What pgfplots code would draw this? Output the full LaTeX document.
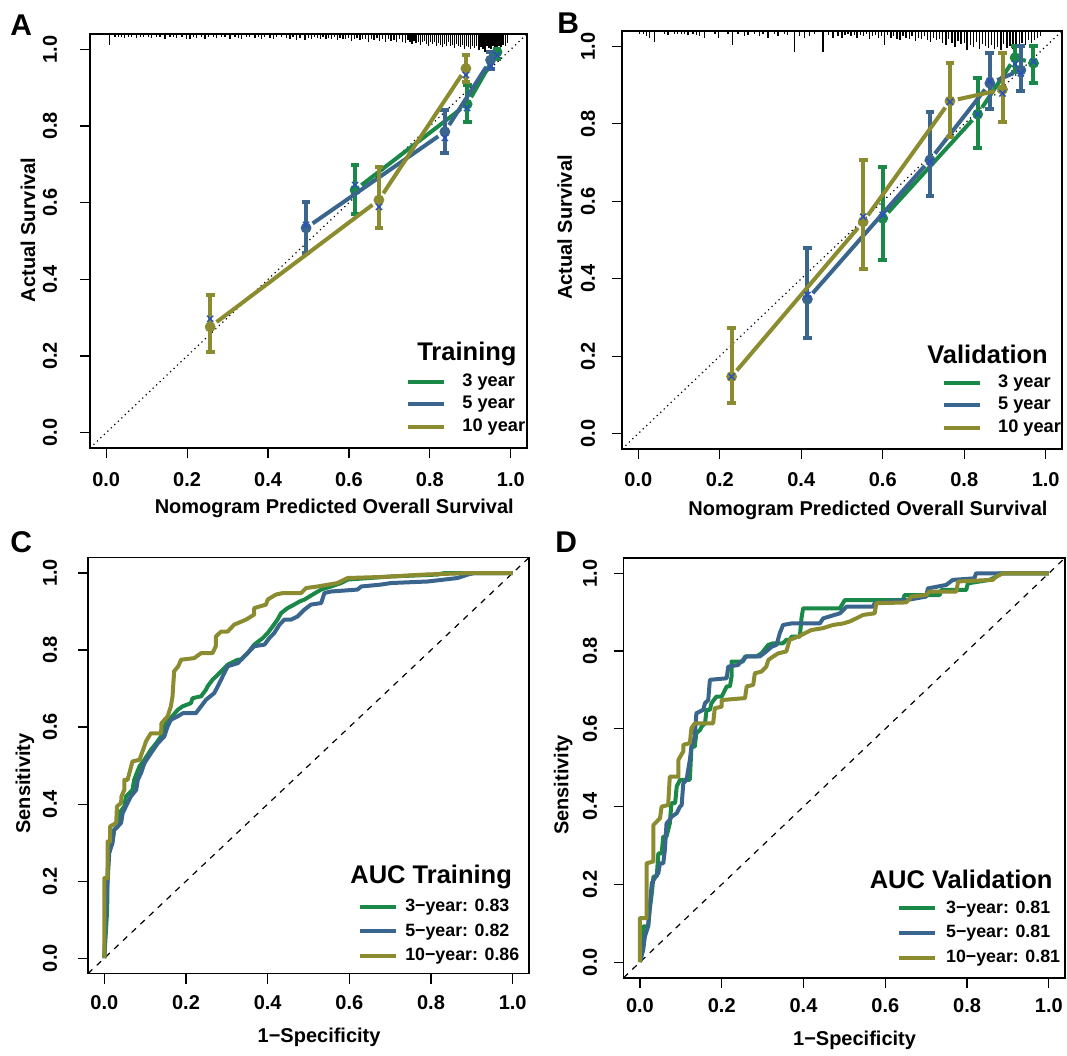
\documentclass[border=0pt]{standalone}
\usepackage{fontspec}
\setmainfont{Liberation Sans Bold}
\usepackage{pgfplots}
\pgfplotsset{compat=1.18}

\definecolor{c3}{RGB}{26,137,72}
\definecolor{c5}{RGB}{58,101,141}
\definecolor{c10}{RGB}{139,139,48}
\definecolor{cx}{RGB}{40,80,190}

\tikzset{ttl/.style={anchor=base east, inner sep=0pt, font=\fontsize{12.75}{14}\selectfont},
  letter/.style={anchor=base west, inner sep=0pt, font=\fontsize{15}{15}\selectfont}}

\pgfplotsset{
  panel/.style={
    scale only axis,
    xmin=-0.04, xmax=1.04, ymin=-0.04, ymax=1.04,
    xtick={0,0.2,0.4,0.6,0.8,1}, ytick={0,0.2,0.4,0.6,0.8,1},
    tick pos=left, tick align=outside, major tick length=5pt,
    tick style={black, line width=0.6pt},
    axis line style={black, line width=0.8pt},
    ticklabel style={font=\fontsize{10}{12}\selectfont,
      /pgf/number format/assume math mode=true,
      /pgf/number format/fixed, /pgf/number format/precision=1,
      /pgf/number format/fixed zerofill},
    xticklabel style={anchor=center},
    yticklabel style={rotate=90, anchor=center},
    label style={font=\fontsize{10}{12}\selectfont},
    clip mode=individual,
    legend cell align=left,
    legend image code/.code={\draw[#1, line width=2pt] (0pt,0pt) -- (18pt,0pt);},
  },
  lgd/.style={legend style={draw=none, fill=none, inner sep=0pt,
      font=\fontsize{9.1}{11}\selectfont, nodes={inner sep=0pt},
      row sep=3.5pt, column sep=0pt,
      /tikz/every odd column/.append style={column sep=#1}}},
  rug/.style={quiver={u=0, v=-\thisrow{l}}, black, line width=0.65pt, no marks, forget plot},
  seg/.style={#1, line width=2pt, shorten <=4pt, shorten >=4pt, no marks, forget plot},
  bars/.style={#1, only marks, mark=*, mark size=2.5pt, forget plot,
      error bars/.cd, y dir=both, y explicit,
      error bar style={#1, line width=2pt},
      error mark options={#1, rotate=90, line width=2pt, mark size=2.2pt}},
  xm/.style={cx, only marks, mark=x, mark size=2.2pt, mark options={line width=0.7pt}, forget plot},
  roc/.style={#1, line width=2pt, line join=round, no marks, forget plot},
}

\begin{document}
\begin{tikzpicture}
\useasboundingbox (0,0) rectangle (533.5pt,-528pt);

% ---------------- A: calibration, training
\begin{axis}[panel, lgd=8pt, at={(45pt,-17pt)}, anchor=north west,
  width=218.5pt, height=207pt,
  xlabel={Nomogram Predicted Overall Survival}, ylabel={Actual Survival},
  xlabel style={at={(axis description cs:0.559,-0.145)}, anchor=center},
  ylabel style={at={(axis description cs:-0.142,0.527)}, anchor=center, rotate=0},
  xticklabel style={yshift=-11pt}, yticklabel style={yshift=15pt},
  legend style={at={(axis cs:0.741,0.155)}, anchor=north west}]
\addplot[black, line width=0.6pt, dash pattern=on 0.6pt off 1.8pt, forget plot] coordinates {(-0.04,-0.04) (1.04,1.04)};
\addplot[rug] table[x=x, y expr=1.04] {
x l
0.009 0.029
0.022 0.008
0.030 0.008
0.038 0.008
0.046 0.010
0.055 0.008
0.063 0.008
0.075 0.010
0.084 0.008
0.092 0.008
0.104 0.008
0.112 0.010
0.125 0.008
0.133 0.008
0.145 0.014
0.158 0.008
0.166 0.008
0.174 0.010
0.187 0.008
0.199 0.014
0.207 0.014
0.215 0.008
0.224 0.010
0.236 0.008
0.244 0.014
0.252 0.008
0.265 0.008
0.273 0.010
0.285 0.008
0.294 0.008
0.306 0.014
0.318 0.008
0.327 0.010
0.335 0.014
0.347 0.008
0.355 0.008
0.368 0.010
0.376 0.008
0.384 0.014
0.392 0.008
0.405 0.010
0.413 0.014
0.421 0.008
0.434 0.008
0.446 0.010
0.454 0.014
0.462 0.008
0.471 0.016
0.479 0.010
0.491 0.016
0.500 0.010
0.508 0.012
0.515 0.008
0.522 0.010
0.529 0.012
0.536 0.008
0.543 0.014
0.550 0.010
0.557 0.012
0.564 0.008
0.571 0.016
0.578 0.010
0.585 0.012
0.592 0.014
0.599 0.010
0.606 0.018
0.613 0.012
0.620 0.010
0.627 0.016
0.634 0.012
0.641 0.014
0.648 0.020
0.655 0.012
0.662 0.016
0.669 0.010
0.676 0.018
0.683 0.014
0.690 0.022
0.697 0.012
0.704 0.018
0.711 0.016
0.718 0.022
0.725 0.014
0.732 0.020
0.739 0.024
0.746 0.016
0.751 0.022
0.756 0.026
0.761 0.018
0.766 0.024
0.771 0.020
0.776 0.028
0.781 0.022
0.786 0.018
0.791 0.026
0.796 0.030
0.801 0.022
0.806 0.026
0.811 0.020
0.816 0.030
0.821 0.024
0.826 0.028
0.831 0.034
0.836 0.026
0.841 0.030
0.846 0.022
0.851 0.032
0.856 0.028
0.861 0.036
0.866 0.026
0.871 0.030
0.876 0.034
0.881 0.028
0.886 0.038
0.891 0.030
0.896 0.034
0.901 0.040
0.906 0.032
0.911 0.036
0.916 0.030
0.921 0.042
0.926 0.034
0.931 0.038
0.936 0.046
0.941 0.032
0.946 0.036
0.951 0.040
0.956 0.030
0.961 0.034
0.966 0.038
0.971 0.030
0.976 0.034
0.981 0.028
0.986 0.030
0.991 0.024
};
% 3 year
\addplot[bars=c3] coordinates {(0.615,0.633) += (0,0.065) -= (0,0.063)
  (0.892,0.857) += (0,0.050) -= (0,0.046) (0.966,0.993) += (0,0.007) -= (0,0.018)};
\addplot[seg=c3] coordinates {(0.615,0.633) (0.892,0.857)};
\addplot[seg=c3] coordinates {(0.892,0.857) (0.966,0.993)};
% 5 year
\addplot[bars=c5] coordinates {(0.494,0.534) += (0,0.069) -= (0,0.065)
  (0.837,0.785) += (0,0.057) -= (0,0.055) (0.950,0.972) += (0,0.021) -= (0,0.024)};
\addplot[seg=c5] coordinates {(0.494,0.534) (0.837,0.785)};
\addplot[seg=c5] coordinates {(0.837,0.785) (0.950,0.972)};
% 10 year
\addplot[bars=c10] coordinates {(0.257,0.276) += (0,0.082) -= (0,0.065)
  (0.674,0.607) += (0,0.087) -= (0,0.073) (0.889,0.950) += (0,0.035) -= (0,0.034)};
\addplot[seg=c10] coordinates {(0.257,0.276) (0.674,0.607)};
\addplot[seg=c10] coordinates {(0.674,0.607) (0.889,0.950)};
\addplot[xm] coordinates {(0.615,0.646) (0.892,0.847) (0.966,0.985) (0.494,0.542) (0.837,0.769)
  (0.950,0.955) (0.257,0.297) (0.674,0.589) (0.889,0.933)};
\addlegendimage{c3}\addlegendentry{3 year}
\addlegendimage{c5}\addlegendentry{5 year}
\addlegendimage{c10}\addlegendentry{10 year}
\node[ttl] at (axis cs:1.015,0.187) {Training};
\end{axis}

% ---------------- B: calibration, validation
\begin{axis}[panel, lgd=8pt, at={(311pt,-15.5pt)}, anchor=north west,
  width=220pt, height=209pt,
  xlabel={Nomogram Predicted Overall Survival}, ylabel={Actual Survival},
  xlabel style={at={(axis description cs:0.559,-0.148)}, anchor=center},
  ylabel style={at={(axis description cs:-0.13,0.53)}, anchor=center, rotate=0},
  xticklabel style={yshift=-10.5pt}, yticklabel style={yshift=12pt},
  legend style={at={(axis cs:0.745,0.153)}, anchor=north west}]
\addplot[black, line width=0.6pt, dash pattern=on 0.6pt off 1.8pt, forget plot] coordinates {(-0.04,-0.04) (1.04,1.04)};
\addplot[rug] table[x=x, y expr=1.04] {
x l
0.003 0.009
0.012 0.009
0.020 0.013
0.028 0.017
0.040 0.028
0.065 0.009
0.073 0.010
0.089 0.009
0.097 0.009
0.106 0.009
0.114 0.009
0.122 0.010
0.134 0.009
0.142 0.010
0.151 0.013
0.163 0.017
0.188 0.009
0.196 0.017
0.220 0.009
0.232 0.036
0.245 0.009
0.261 0.013
0.269 0.010
0.286 0.009
0.298 0.013
0.306 0.009
0.318 0.017
0.335 0.009
0.343 0.013
0.359 0.009
0.367 0.010
0.384 0.055
0.396 0.013
0.408 0.017
0.421 0.013
0.433 0.009
0.453 0.055
0.466 0.010
0.478 0.017
0.490 0.013
0.500 0.017
0.507 0.010
0.515 0.009
0.522 0.013
0.530 0.010
0.537 0.017
0.545 0.010
0.552 0.013
0.560 0.009
0.567 0.020
0.575 0.013
0.582 0.010
0.590 0.017
0.597 0.013
0.605 0.036
0.612 0.010
0.620 0.017
0.627 0.013
0.635 0.020
0.642 0.024
0.650 0.013
0.657 0.017
0.665 0.020
0.672 0.013
0.680 0.026
0.687 0.017
0.695 0.020
0.702 0.013
0.710 0.024
0.717 0.028
0.725 0.017
0.732 0.022
0.740 0.020
0.747 0.032
0.755 0.036
0.762 0.020
0.770 0.030
0.777 0.042
0.785 0.026
0.792 0.034
0.800 0.030
0.807 0.048
0.815 0.036
0.822 0.042
0.830 0.028
0.837 0.046
0.845 0.034
0.852 0.040
0.860 0.044
0.867 0.036
0.875 0.046
0.882 0.042
0.890 0.048
0.897 0.034
0.905 0.044
0.912 0.040
0.920 0.046
0.927 0.036
0.935 0.040
0.942 0.030
0.950 0.036
0.957 0.024
0.965 0.030
0.972 0.022
0.980 0.017
0.987 0.013
};
% 3 year
\addplot[bars=c3] coordinates {(0.600,0.556) += (0,0.133) -= (0,0.108)
  (0.833,0.825) += (0,0.094) -= (0,0.088) (0.925,0.971) += (0,0.029) -= (0,0.036)
  (0.970,0.957) += (0,0.043) -= (0,0.051)};
\addplot[seg=c3] coordinates {(0.600,0.556) (0.833,0.825)};
\addplot[seg=c3] coordinates {(0.833,0.825) (0.925,0.971)};
\addplot[seg=c3] coordinates {(0.925,0.971) (0.970,0.957)};
% 5 year
\addplot[bars=c5] coordinates {(0.415,0.347) += (0,0.133) -= (0,0.099)
  (0.716,0.707) += (0,0.125) -= (0,0.093) (0.863,0.905) += (0,0.077) -= (0,0.067)
  (0.939,0.939) += (0,0.061) -= (0,0.054)};
\addplot[seg=c5] coordinates {(0.415,0.347) (0.716,0.707)};
\addplot[seg=c5] coordinates {(0.716,0.707) (0.863,0.905)};
\addplot[seg=c5] coordinates {(0.863,0.905) (0.939,0.939)};
% 10 year
\addplot[bars=c10] coordinates {(0.229,0.147) += (0,0.126) -= (0,0.068)
  (0.552,0.547) += (0,0.160) -= (0,0.122) (0.765,0.859) += (0,0.099) -= (0,0.092)
  (0.894,0.889) += (0,0.093) -= (0,0.085)};
\addplot[seg=c10] coordinates {(0.229,0.147) (0.552,0.547)};
\addplot[seg=c10] coordinates {(0.552,0.547) (0.765,0.859)};
\addplot[seg=c10] coordinates {(0.765,0.859) (0.894,0.889)};
\addplot[xm] coordinates {(0.600,0.565) (0.833,0.825) (0.925,0.955) (0.970,0.961) (0.415,0.358)
  (0.716,0.702) (0.863,0.911) (0.939,0.931) (0.229,0.147) (0.552,0.560) (0.765,0.857) (0.894,0.879)};
\addlegendimage{c3}\addlegendentry{3 year}
\addlegendimage{c5}\addlegendentry{5 year}
\addlegendimage{c10}\addlegendentry{10 year}
\node[ttl] at (axis cs:1.006,0.182) {Validation};
\end{axis}

% ---------------- C: ROC, training
\begin{axis}[panel, lgd=3.5pt, at={(44pt,-278.8pt)}, anchor=north west,
  width=220.5pt, height=208pt,
  xlabel={1−Specificity}, ylabel={Sensitivity},
  xlabel style={at={(axis description cs:0.524,-0.153)}, anchor=center},
  ylabel style={at={(axis description cs:-0.143,0.457)}, anchor=center, rotate=0},
  xticklabel style={yshift=-9.5pt}, yticklabel style={yshift=14pt},
  legend style={at={(axis cs:0.621,0.155)}, anchor=north west, row sep=4.7pt,
    font=\fontsize{8.9}{11}\selectfont}]
\addplot[black, line width=0.6pt, dash pattern=on 3pt off 3pt, forget plot] coordinates {(-0.04,-0.04) (1.04,1.04)};
\addplot[roc=c3] coordinates {(0,0) (0.007,0.126) (0.008,0.229) (0.012,0.281) (0.020,0.307)
  (0.024,0.333) (0.033,0.342) (0.037,0.377) (0.049,0.394) (0.053,0.420) (0.069,0.437)
  (0.073,0.463) (0.086,0.498) (0.098,0.515) (0.114,0.541) (0.127,0.558) (0.139,0.576)
  (0.151,0.610) (0.159,0.619) (0.180,0.645) (0.192,0.654) (0.212,0.662) (0.216,0.675)
  (0.237,0.680) (0.249,0.697) (0.253,0.706) (0.265,0.723) (0.278,0.736) (0.290,0.749)
  (0.302,0.762) (0.327,0.775) (0.335,0.775) (0.351,0.792) (0.367,0.814) (0.388,0.831)
  (0.400,0.844) (0.412,0.861) (0.424,0.879) (0.433,0.896) (0.449,0.909) (0.465,0.918)
  (0.478,0.926) (0.490,0.931) (0.510,0.944) (0.531,0.957) (0.555,0.965) (0.580,0.974)
  (0.596,0.983) (0.702,0.991) (0.816,0.996) (0.833,1.0) (1,1)};
\addplot[roc=c5] coordinates {(0,0) (0.004,0.126) (0.012,0.273) (0.020,0.299) (0.024,0.333)
  (0.041,0.351) (0.045,0.377) (0.057,0.403) (0.065,0.420) (0.078,0.437) (0.082,0.463)
  (0.090,0.481) (0.098,0.506) (0.114,0.532) (0.131,0.558) (0.147,0.576) (0.155,0.602)
  (0.163,0.619) (0.180,0.628) (0.192,0.636) (0.224,0.636) (0.237,0.654) (0.249,0.671)
  (0.269,0.688) (0.278,0.706) (0.290,0.732) (0.302,0.758) (0.327,0.766) (0.343,0.784)
  (0.359,0.801) (0.367,0.810) (0.392,0.814) (0.404,0.831) (0.416,0.844) (0.429,0.866)
  (0.441,0.879) (0.457,0.879) (0.473,0.887) (0.490,0.905) (0.506,0.918) (0.531,0.922)
  (0.539,0.948) (0.555,0.952) (0.620,0.957) (0.629,0.965) (0.678,0.970) (0.702,0.974)
  (0.792,0.978) (0.865,0.987) (0.890,0.996) (0.906,1.0) (1,1)};
\addplot[roc=c10] coordinates {(0,0) (0,0.208) (0.008,0.208) (0.008,0.303) (0.014,0.303)
  (0.014,0.342) (0.029,0.351) (0.031,0.394) (0.041,0.403) (0.042,0.420) (0.049,0.437)
  (0.049,0.463) (0.057,0.463) (0.069,0.511) (0.086,0.515) (0.098,0.550) (0.102,0.563)
  (0.114,0.584) (0.139,0.584) (0.140,0.610) (0.155,0.628) (0.163,0.654) (0.167,0.680)
  (0.171,0.745) (0.181,0.758) (0.188,0.775) (0.220,0.779) (0.237,0.792) (0.265,0.792)
  (0.273,0.810) (0.273,0.835) (0.286,0.848) (0.302,0.848) (0.318,0.866) (0.347,0.879)
  (0.367,0.892) (0.367,0.909) (0.396,0.918) (0.400,0.931) (0.420,0.944) (0.437,0.948)
  (0.482,0.948) (0.494,0.961) (0.522,0.965) (0.571,0.974) (0.596,0.987) (0.686,0.990)
  (0.784,0.996) (0.898,1.0) (1,1)};
\addlegendimage{c3}\addlegendentry{3−year: 0.83}
\addlegendimage{c5}\addlegendentry{5−year: 0.82}
\addlegendimage{c10}\addlegendentry{10−year: 0.86}
\node[ttl] at (axis cs:0.999,0.194) {AUC Training};
\end{axis}

% ---------------- D: ROC, validation
\begin{axis}[panel, lgd=4.5pt, at={(311.8pt,-278.85pt)}, anchor=north west,
  width=220.8pt, height=210pt,
  xlabel={1−Specificity}, ylabel={Sensitivity},
  xlabel style={at={(axis description cs:0.523,-0.149)}, anchor=center},
  ylabel style={at={(axis description cs:-0.137,0.459)}, anchor=center, rotate=0},
  xticklabel style={yshift=-8.75pt}, yticklabel style={yshift=11.8pt},
  legend style={at={(axis cs:0.628,0.159)}, anchor=north west, row sep=4.7pt,
    font=\fontsize{8.9}{11}\selectfont}]
\addplot[black, line width=0.6pt, dash pattern=on 3pt off 3pt, forget plot] coordinates {(-0.04,-0.04) (1.04,1.04)};
\addplot[roc=c3] coordinates {(0,0) (0.004,0.040) (0.008,0.092) (0.020,0.092) (0.024,0.135)
  (0.029,0.177) (0.033,0.220) (0.041,0.220) (0.045,0.280) (0.053,0.280) (0.057,0.323)
  (0.065,0.323) (0.073,0.357) (0.077,0.409) (0.086,0.409) (0.090,0.452) (0.098,0.469)
  (0.122,0.469) (0.126,0.554) (0.134,0.554) (0.138,0.589) (0.147,0.597) (0.151,0.606)
  (0.159,0.614) (0.163,0.649) (0.171,0.649) (0.175,0.666) (0.187,0.683) (0.200,0.683)
  (0.208,0.700) (0.212,0.709) (0.220,0.709) (0.224,0.734) (0.224,0.773) (0.252,0.773)
  (0.257,0.786) (0.285,0.786) (0.297,0.794) (0.314,0.816) (0.326,0.820) (0.350,0.820)
  (0.358,0.829) (0.366,0.829) (0.371,0.837) (0.391,0.837) (0.395,0.884) (0.399,0.910)
  (0.489,0.910) (0.501,0.931) (0.643,0.931) (0.647,0.944) (0.733,0.944) (0.737,0.957)
  (0.798,0.957) (0.802,0.974) (0.855,0.983) (0.871,0.991) (0.879,1.0) (1,1)};
\addplot[roc=c5] coordinates {(0,0) (0.008,0.032) (0.012,0.066) (0.020,0.092) (0.024,0.143)
  (0.029,0.203) (0.041,0.225) (0.045,0.229) (0.049,0.254) (0.057,0.254) (0.061,0.289)
  (0.065,0.357) (0.073,0.366) (0.077,0.374) (0.090,0.383) (0.098,0.400) (0.102,0.404)
  (0.106,0.460) (0.114,0.469) (0.122,0.520) (0.126,0.554) (0.134,0.580) (0.138,0.640)
  (0.155,0.649) (0.159,0.666) (0.167,0.674) (0.171,0.726) (0.212,0.730) (0.216,0.760)
  (0.240,0.764) (0.244,0.769) (0.261,0.786) (0.293,0.786) (0.309,0.799) (0.322,0.811)
  (0.334,0.816) (0.342,0.846) (0.350,0.867) (0.371,0.871) (0.440,0.871) (0.448,0.884)
  (0.489,0.897) (0.505,0.914) (0.570,0.914) (0.574,0.923) (0.651,0.931) (0.700,0.940)
  (0.704,0.961) (0.749,0.970) (0.765,0.983) (0.818,0.987) (0.822,1.0) (1,1)};
\addplot[roc=c10] coordinates {(0,0) (0,0.113) (0.016,0.113) (0.016,0.254) (0.033,0.259)
  (0.033,0.353) (0.037,0.357) (0.049,0.370) (0.053,0.400) (0.069,0.404) (0.073,0.477)
  (0.094,0.477) (0.094,0.520) (0.106,0.542) (0.106,0.559) (0.122,0.563) (0.126,0.602)
  (0.134,0.614) (0.179,0.614) (0.183,0.653) (0.200,0.657) (0.200,0.674) (0.257,0.679)
  (0.261,0.709) (0.277,0.713) (0.281,0.743) (0.297,0.747) (0.309,0.760) (0.314,0.777)
  (0.326,0.786) (0.338,0.794) (0.358,0.799) (0.366,0.829) (0.387,0.837) (0.419,0.854)
  (0.448,0.859) (0.472,0.867) (0.497,0.871) (0.513,0.876) (0.529,0.884) (0.546,0.893)
  (0.574,0.897) (0.578,0.923) (0.651,0.925) (0.664,0.940) (0.700,0.944) (0.708,0.953)
  (0.774,0.953) (0.778,0.979) (0.863,0.983) (0.871,0.991) (0.888,1.0) (1,1)};
\addlegendimage{c3}\addlegendentry{3−year: 0.81}
\addlegendimage{c5}\addlegendentry{5−year: 0.81}
\addlegendimage{c10}\addlegendentry{10−year: 0.81}
\node[ttl] at (axis cs:1.010,0.190) {AUC Validation};
\end{axis}

\node[letter] at (5pt,-17.5pt) {A};
\node[letter] at (278.5pt,-16.5pt) {B};
\node[letter] at (5pt,-276pt) {C};
\node[letter] at (277.5pt,-276pt) {D};
\end{tikzpicture}
\end{document}
